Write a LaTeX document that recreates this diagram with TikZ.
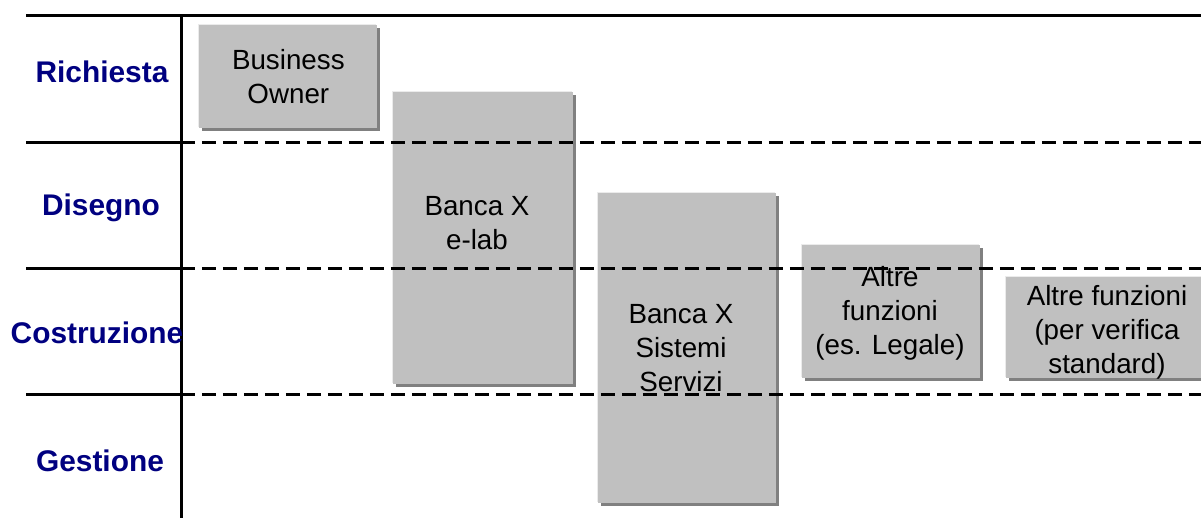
\documentclass[tikz,border=0pt]{standalone}
\usepackage{fontspec}
\setmainfont{Liberation Sans}
\usetikzlibrary{positioning,shadows}

% 颜色定义
\definecolor{blunotte}{RGB}{0,0,128}
\definecolor{grigioblocco}{RGB}{192,192,192}
\definecolor{grigioombra}{RGB}{128,128,128}

\begin{document}
\begin{tikzpicture}[x=0.02cm,y=-0.02cm,
	fase/.style={font=\fontsize{17}{20}\selectfont\bfseries, text=blunotte, inner sep=0pt},
	blocco/.style={rectangle, fill=grigioblocco, anchor=north west, inner sep=0pt,
		general shadow={fill=grigioombra, shadow xshift=0.045cm, shadow yshift=-0.045cm},
		general shadow={fill=black!8, shadow xshift=-0.03cm, shadow yshift=0.03cm}},
	testo/.style={font=\fontsize{15.8}{19.3}\selectfont, align=center, inner sep=0pt},
	linea/.style={line width=0.06cm},
	tratteggio/.style={line width=0.06cm, dash pattern=on 0.28cm off 0.14cm}]
	
	% 固定画布大小 (1201 x 518 像素)
	\useasboundingbox (0,0) rectangle (1201,518);
	
	% 定义网格线的端点
	\coordinate (sx) at (26,15); % 顶部横线左端
	\coordinate (dx) at (1201,15); % 顶部横线右端
	\coordinate (asse) at (181,15); % 竖线上端
	\coordinate (fondo) at (181,518); % 竖线下端
	
	% 绘制各阶段的方框
	\node[blocco, minimum width=3.56cm, minimum height=2.06cm] (owner) at (199,25) {}; % Business Owner
	\node[blocco, minimum width=3.6cm, minimum height=5.84cm] (elab) at (393,92) {}; % e-lab
	\node[blocco, minimum width=3.56cm, minimum height=6.2cm] (sistemi) at (598,193) {}; % Sistemi Servizi
	\node[blocco, minimum width=3.56cm, minimum height=2.66cm] (legale) at (802,245) {}; % 法务
	\node[blocco, minimum width=4.08cm, minimum height=2.02cm] (verifica) at (1006,277) {}; % 标准审核
	
	% 方框中的文字
	\node[testo] (t-owner) at (owner.center) {Business\\Owner};
	\node[testo] (t-elab) at (477,223) {Banca X\\e-lab};
	\node[testo] (t-sistemi) at (681,348) {Banca X\\Sistemi\\Servizi};
	\node[testo] (t-legale) at (890,313) {Altre\\funzioni\\(es. Legale)};
	\node[testo] (t-verifica) at (1107,332) {Altre funzioni\\(per verifica\\standard)};
	
	% 绘制网格线
	\draw[linea] (sx) -- (dx); % 顶部实线
	\draw[linea] (asse) -- (fondo); % 竖直实线
	\foreach \y in {142,268,394}{
		\draw[linea] (26,\y) -- (181,\y); % 左侧实线
		\draw[tratteggio] (181,\y) -- (1201,\y); % 右侧虚线
	}
	
	% 阶段标签
	\node[fase] (richiesta) at (102,72) {Richiesta};
	\node[fase] (disegno) at (101,208) {Disegno};
	\node[fase] (costruzione) at (97,333) {Costruzione};
	\node[fase] (gestione) at (100,461) {Gestione};
	
\end{tikzpicture}
\end{document}
